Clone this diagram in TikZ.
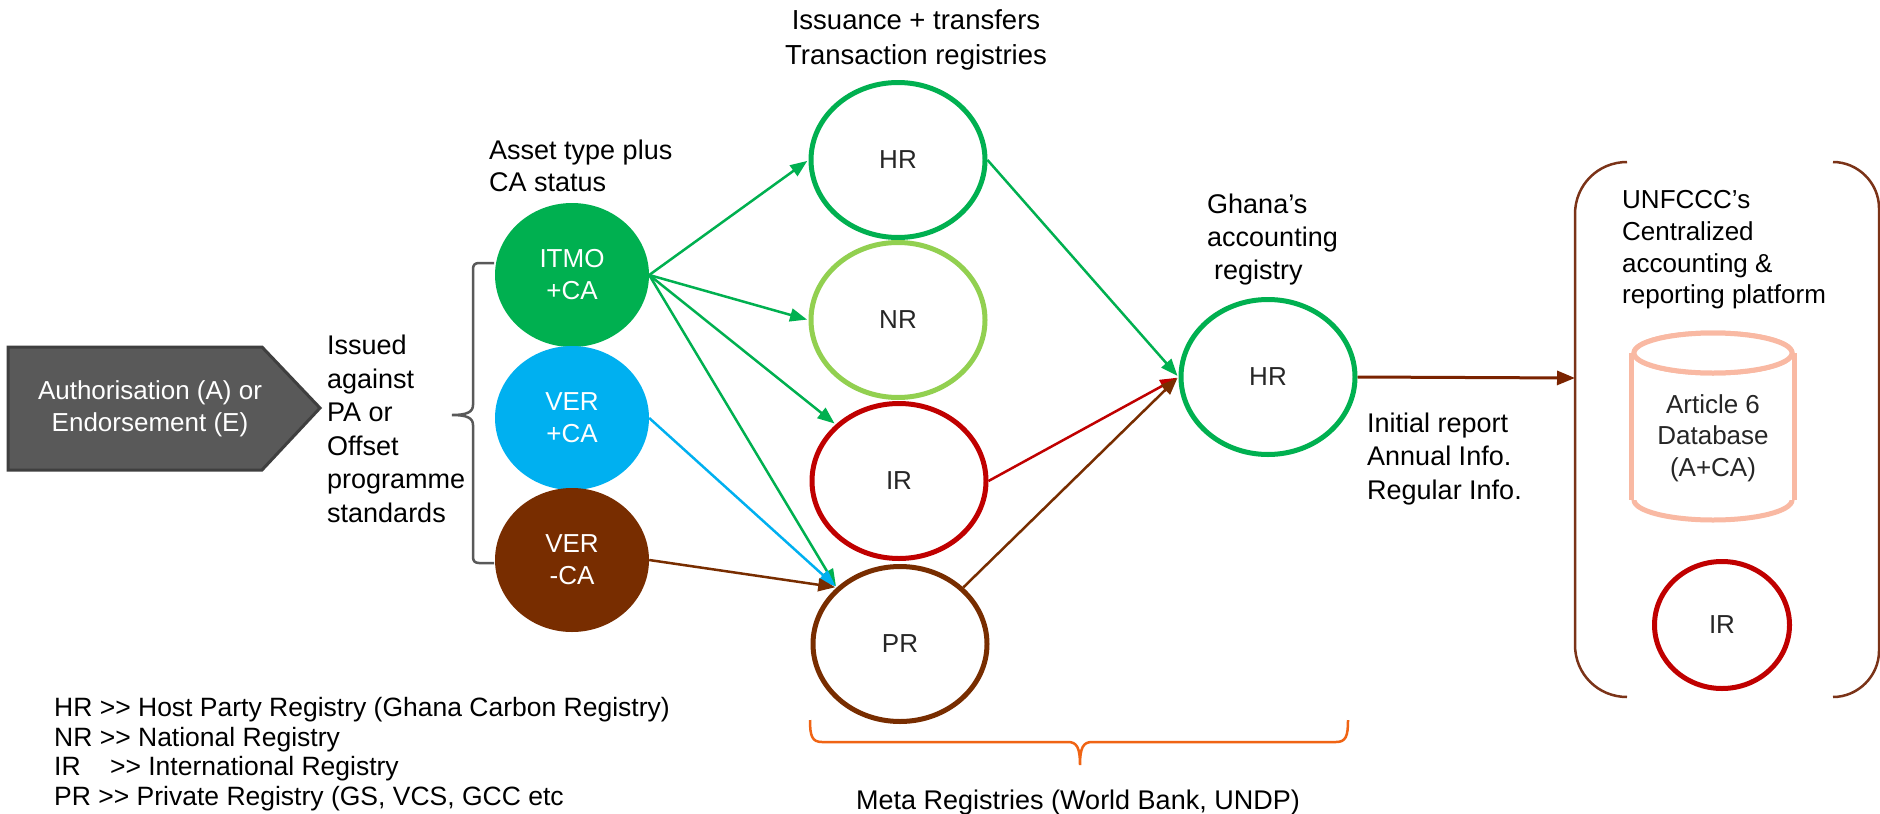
\documentclass[tikz,border=0pt]{standalone}
\usepackage{fontspec}
\setmainfont{Liberation Sans}
\usetikzlibrary{shapes.geometric,arrows.meta}
\definecolor{cgreen}{HTML}{00B050}
\definecolor{clgreen}{HTML}{92D050}
\definecolor{cred}{HTML}{C00000}
\definecolor{cblue}{HTML}{00B0F0}
\definecolor{cbrown}{HTML}{782D00}
\definecolor{cdbrown}{HTML}{7A2300}
\definecolor{cbracket}{HTML}{7B3318}
\definecolor{csalmon}{HTML}{F9B9A3}
\definecolor{corange}{HTML}{F06414}
\definecolor{cgray}{HTML}{595959}
\definecolor{cdgray}{HTML}{3F3F3F}
\definecolor{ctext}{HTML}{262626}
\begin{document}
\begin{tikzpicture}[x=1pt,y=-1pt,
  lbl/.style={font=\fontsize{27}{33.5}\selectfont, inner sep=0pt, align=left},
  src/.style={ellipse, minimum width=154, minimum height=144, inner sep=0pt, text=white, font=\fontsize{26}{32}\selectfont, align=center},
  reg/.style={ellipse, draw, line width=5pt, minimum width=174, minimum height=155, inner sep=0pt, text=ctext, font=\fontsize{26}{30}\selectfont},
  arr/.style={line width=2.5pt, shorten >=1.5pt, -{Triangle[length=17pt,width=13pt]}},
  cyl/.style={ellipse, draw=csalmon, line width=5pt, minimum width=158, minimum height=40, inner sep=0pt},
]
\useasboundingbox (0,0) rectangle (1880,814);
\fill[white] (0,0) rectangle (1880,814);

% Authorisation pentagon
\fill[cgray, draw=cdgray, line width=3pt] (8,347) -- (262,347) -- (320,408) -- (262,470) -- (8,470) -- cycle;
\node[text=white, font=\fontsize{26}{32}\selectfont, align=center, inner sep=0pt] (auth) at (150,409) {Authorisation (A) or\\Endorsement (E)};

% Issued against text
\node[lbl, anchor=west] (iss) at (327,429) {Issued\\against\\PA or\\Offset\\programme\\standards};

% left brace
\draw[cgray, line width=2.5pt] (494,263) -- (479,263) .. controls (475,263) and (473,265) .. (473,269)
  -- (473,405) .. controls (473,412) and (467,415) .. (452,415)
  .. controls (467,415) and (473,418) .. (473,425)
  -- (473,557) .. controls (473,561) and (475,563) .. (479,563) -- (494,563);

% asset label
\node[lbl, anchor=west, font=\fontsize{27}{32}\selectfont] (asset) at (489,166) {Asset type plus\\CA status};

% source ellipses
\node[src, fill=cgreen] (itmo) at (572,275) {ITMO\\+CA};
\node[src, fill=cblue] (verp) at (572,418) {VER\\+CA};
\node[src, fill=cbrown] (verm) at (572,560) {VER\\-CA};

% transaction registries
\node[lbl, align=center, font=\fontsize{27.5}{35}\selectfont] (trans) at (916,40) {Issuance + transfers\\Transaction registries};
\node[reg, draw=cgreen] (hr) at (898,160) {HR};
\node[reg, draw=clgreen] (nr) at (898,320) {NR};
\node[reg, draw=cred] (ir) at (899,481) {IR};
\node[reg, draw=cbrown] (pr) at (900,644) {PR};

% Ghana's registry
\node[lbl, anchor=west, font=\fontsize{27}{33}\selectfont] (glab) at (1207,240) {Ghana’s\\accounting\\\hspace*{7pt}registry};
\node[reg, draw=cgreen] (ghr) at (1268,377) {HR};

% arrows
\draw[arr, cgreen] (itmo.east) -- (hr.west);
\draw[arr, cgreen] (itmo.east) -- (nr.west);
\draw[arr, cgreen] (itmo.east) -- (ir.north west);
\draw[arr, cgreen] (itmo.east) -- (pr.north west);
\draw[arr, cblue] (verp.east) -- (pr.north west);
\draw[arr, cbrown] (verm.east) -- (pr.north west);
\draw[arr, cgreen] (hr.east) -- (ghr.west);
\draw[arr, cred] (ir.east) -- (ghr.west);
\draw[arr, cbrown] (pr.north east) -- (ghr.west);

% meta brace
\draw[corange, line width=2.5pt] (810,720) .. controls (810,736) and (812,742) .. (822,742) -- (1068,742)
  .. controls (1077,742) and (1080,748) .. (1080,765)
  .. controls (1080,748) and (1083,742) .. (1092,742) -- (1336,742)
  .. controls (1346,742) and (1348,736) .. (1348,720);
\node[lbl] (meta) at (1078,803) {Meta Registries (World Bank, UNDP)};

% report arrow
\coordinate (uin) at (1575,378);
\draw[line width=3pt, cdbrown, -{Triangle[length=18pt,width=14pt]}] (ghr.east) -- (uin);
\node[lbl, anchor=west, font=\fontsize{27}{33.5}\selectfont] (rep) at (1367,459) {Initial report\\Annual Info.\\Regular Info.};

% UNFCCC brackets
\draw[cbracket, line width=2.5pt] (1627,162) .. controls (1598,162) and (1575,185) .. (1575,214) -- (1575,645)
  .. controls (1575,674) and (1598,697) .. (1627,697);
\draw[cbracket, line width=2.5pt] (1833,162) .. controls (1858,162) and (1879,183) .. (1879,208) -- (1879,651)
  .. controls (1879,676) and (1858,697) .. (1833,697);
\node[lbl, anchor=west, font=\fontsize{26}{31.7}\selectfont] (unf) at (1622,250) {UNFCCC’s\\Centralized\\accounting \&\\reporting platform};

% cylinder
\node[cyl] (cylb) at (1713,500) {};
\fill[white] (1634,353) rectangle (1792,500);
\node[cyl, fill=white] (cylt) at (1713,353) {};
\draw[csalmon, line width=5pt] (cylt.west) -- (cylb.west);
\draw[csalmon, line width=5pt] (cylt.east) -- (cylb.east);
\node[cyl, fill=white] at (1713,353) {};
\node[text=ctext, font=\fontsize{26}{31.5}\selectfont, align=center, inner sep=0pt] (db) at (1713,438) {Article 6\\Database\\(A+CA)};

\node[reg, draw=cred, minimum width=135, minimum height=127] (ir2) at (1722,625) {IR};

% legend
\node[anchor=west, align=left, inner sep=0pt, font=\fontsize{26.5}{29.5}\selectfont] (leg) at (54,754)
  {HR >\kern0pt> Host Party Registry (Ghana Carbon Registry)\\NR >\kern0pt> National Registry\\IR\hspace*{22pt} >\kern0pt> International Registry\\PR >\kern0pt> Private Registry (GS, VCS, GCC etc};
\end{tikzpicture}
\end{document}
